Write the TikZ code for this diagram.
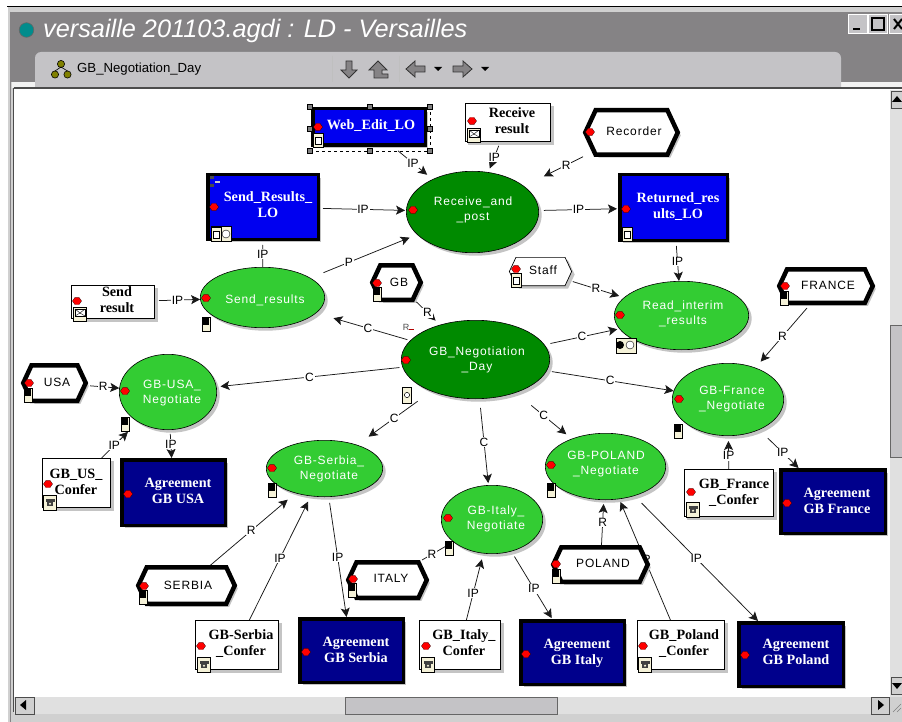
\documentclass[tikz,border=0pt]{standalone}
\usepackage{fontspec}
\usetikzlibrary{shapes.geometric,shapes.symbols,arrows.meta,shadows}
\newfontfamily\lblfont[LetterSpace=7]{Liberation Sans}
\newfontfamily\sansf{Liberation Sans}
\newfontfamily\srf{Liberation Serif}
\definecolor{chrome}{HTML}{858385}
\definecolor{tabgray}{HTML}{C4C3C6}
\definecolor{framegray}{HTML}{D0D0D0}
\definecolor{track}{HTML}{E0E0E0}
\definecolor{cream}{HTML}{F5F2D8}
\definecolor{lobue}{HTML}{0000F0}
\definecolor{agnavy}{HTML}{00008C}
\definecolor{dkgreen}{HTML}{008A00}
\definecolor{ltgreen}{HTML}{33CC33}
\definecolor{shade}{HTML}{C4C4C4}
\definecolor{teal2}{HTML}{008C8C}
\definecolor{olive2}{HTML}{808000}
\pgfdeclarelayer{win}\pgfdeclarelayer{conn}\pgfsetlayers{win,conn,main}
\newcommand\off[3]{\smash{\makebox[0pt]{\hspace{\dimexpr #1pt*2\relax}\raisebox{\dimexpr -#2pt-3pt\relax}{\begin{tabular}{@{}c@{}}#3\end{tabular}}}}}
\def\nd#1#2#3(#4,#5,#6,#7)(#8,#9){%
 \pgfmathsetmacro\ndcx{(#4+#6)/2}\pgfmathsetmacro\ndcy{(#5+#7)/2}%
 \pgfmathsetmacro\ndw{#6-#4-#3}\pgfmathsetmacro\ndh{#7-#5-#3}%
 \pgfmathsetmacro\nddx{#8-\ndcx}\pgfmathsetmacro\nddy{#9-\ndcy}%
 \def\ndname{#1}\tikzset{ndcur/.style={#2}}\ndfin}
\newcommand\ndfin[1]{\node[ndcur,minimum width=\ndw pt,minimum height=\ndh pt] (\ndname) at (\ndcx,\ndcy) {\off{\nddx}{\nddy}{#1}};}
\newcommand\cn[6][0.5]{\draw[connline,-{Stealth[length=9pt,width=9pt,inset=2pt]},shorten <=#5pt,shorten >=#6pt] (#2) -- node[lbl,pos=#1]{#4} (#3);}
\newcommand\cp[6][0.5]{\draw[connline,shorten <=#5pt,shorten >=#6pt] (#2) -- node[lbl,pos=#1]{#4} (#3);}
\newcommand\rdot[2]{\draw[black,fill=red,line width=.2pt] (#1-4.6,#2) -- (#1-2,#2-3.6) -- (#1+2,#2-3.6) -- (#1+4.6,#2) -- (#1+2,#2+3.6) -- (#1-2,#2+3.6) -- cycle;}
\newcommand\sw[2]{\draw[fill=cream,line width=.6pt] (#1-4,#2-7) rectangle (#1+4,#2+7);\fill[black] (#1-3,#2-6) rectangle (#1+3,#2+1);}
\newcommand\docicon[2]{\draw[fill=cream,line width=.6pt] (#1-5,#2-7) rectangle (#1+5,#2+7);\draw[fill=white,line width=.4pt] (#1-3,#2-3) rectangle (#1+3,#2+4);}
\newcommand\phoneicon[2]{\draw[fill=cream,line width=.7pt] (#1-6.5,#2-7.5) rectangle (#1+6.5,#2+7.5);\fill[black!75] (#1-4.5,#2-4) rectangle (#1+4.5,#2-1.5);\fill[black!75] (#1-3,#2-1.5) rectangle (#1+3,#2+3);\fill[cream] (#1,#2+.7) circle (1.2pt);}
\newcommand\mailicon[2]{\draw[fill=cream,line width=.7pt] (#1-6.5,#2-7) rectangle (#1+6.5,#2+7);\draw[fill=white,line width=.4pt] (#1-5,#2-5) rectangle (#1+5,#2+2);\draw[line width=.4pt] (#1-5,#2-5) -- (#1,#2-1) -- (#1+5,#2-5) (#1-5,#2+2) -- (#1,#2-1) -- (#1+5,#2+2);}
\newcommand\pairicon[2]{\draw[fill=cream,line width=.7pt] (#1-10,#2-7.5) rectangle (#1+10,#2+7.5);}
\newcommand\handle[2]{\draw[fill=gray,line width=.3pt] (#1-2.5,#2-2.5) rectangle (#1+2.5,#2+2.5);}
\tikzset{
 connline/.style={line width=.75pt,draw=black!90},
 lbl/.style={font=\fontsize{12}{12}\selectfont\sansf,fill=white,inner sep=.8pt,text=black},
 shad/.style={drop shadow={shadow xshift=3pt,shadow yshift=-3pt,fill=shade,opacity=1}},
 sanstxt/.style={font=\fontsize{12}{15.5}\selectfont\lblfont},
 serif/.style={font=\fontsize{14.2}{16.5}\selectfont\srf\bfseries},
 lobox/.style={rectangle,draw=black,line width=3.5pt,fill=lobue,text=white,serif,shad,inner sep=0pt},
 agbox/.style={rectangle,draw=black,line width=3.5pt,fill=agnavy,text=white,serif,shad,inner sep=0pt},
 whbox/.style={rectangle,draw=black,line width=.8pt,fill=white,text=black,serif,shad,inner sep=0pt},
 grn/.style={ellipse,draw=black,line width=.6pt,fill=ltgreen,text=white,sanstxt,shad,inner sep=0pt},
 dgrn/.style={ellipse,draw=black,line width=.6pt,fill=dkgreen,text=white,sanstxt,shad,inner sep=0pt},
 hexthick/.style={signal,signal to=east and west,signal pointer angle=130,draw=black,line width=4.5pt,fill=white,text=black,sanstxt,shad,inner sep=0pt},
 hexthin/.style={signal,signal to=east and west,signal pointer angle=130,draw=black,line width=.7pt,fill=white,text=black,sanstxt,shad,inner sep=0pt},
}
\begin{document}
\begin{tikzpicture}[x=1pt,y=-1pt]
\useasboundingbox (0,0) rectangle (902,722);
\begin{pgfonlayer}{win}
 \fill[white] (0,0) rectangle (902,722);
 \fill[framegray] (8,7) rectangle (902,722);
 \draw[black,line width=1pt] (7,6.5) -- (902,6.5);
 \fill[chrome] (11,12) rectangle (902,82);
 \fill[white!90!gray] (12,82) rectangle (902,88);
 \fill[tabgray] (35,88) -- (35,58) [rounded corners=6pt] -- (35,52) -- (841,52) [sharp corners] -- (841,58) -- (841,88) -- cycle;
 \fill[white] (13,88) rectangle (902,697);
 \draw[black!70,line width=1.2pt] (13.5,88) -- (902,88);
 \draw[black!70,line width=1.2pt] (13.5,88) -- (13.5,712);
 \draw[chrome,line width=.6pt] (10,12) -- (10,722);
 % title
 \draw[black!60,fill=teal2,line width=.6pt] (26.5,30) circle (7.3pt);
 \node[font=\fontsize{25.3}{27}\selectfont\sansf\itshape,text=white,anchor=west,inner sep=0pt] (wintitle) at (43,30.5) {versaille 201103.agdi : LD - Versailles};
 \node[font=\fontsize{13.2}{14}\selectfont\sansf,text=black,anchor=west,inner sep=0pt] (tabtitle) at (77,69) {GB\_Negotiation\_Day};
 \draw[black,fill=olive2,line width=.6pt] (61,64) circle (3.6pt) (55,74.5) circle (3.6pt) (67.5,74.5) circle (3.6pt);
 \draw[black,line width=.6pt] (61,67) -- (55,71) (61,67) -- (67.5,71);
 % toolbar
 \draw[white!50!gray,line width=1pt] (332,56) -- (332,82) (399,56) -- (399,82);
 \draw[black!80,fill=chrome,line width=.8pt] (346,61) -- (352,61) -- (352,70) -- (357,70) -- (349,78) -- (341,70) -- (346,70) -- cycle;
 \draw[black!80,fill=chrome,line width=.8pt] (378,61) -- (387,70) -- (382,70) -- (382,74) -- (388,74) -- (388,78) -- (374,78) -- (374,70) -- (369,70) -- cycle;
 \draw[black!80,fill=chrome,line width=.8pt] (406,69) -- (415,61) -- (415,66) -- (425,66) -- (425,72) -- (415,72) -- (415,77) -- cycle;
 \fill[black] (434,67) -- (442,67) -- (438,71) -- cycle;
 \draw[black!80,fill=chrome,line width=.8pt] (472,69) -- (463,61) -- (463,66) -- (453,66) -- (453,72) -- (463,72) -- (463,77) -- cycle;
 \fill[black] (481,67) -- (489,67) -- (485,71) -- cycle;
 % window buttons
 \foreach \bx/\bw in {848/19,868/19,889/13}{\draw[white,fill=tabgray,line width=.8pt] (\bx,14) rectangle (\bx+\bw,33);}
 \fill[black] (853,28) rectangle (860,30);
 \draw[black,line width=1.2pt] (872,18) rectangle (884,30);
 \draw[black,line width=2pt] (894,19) -- (902,29) (902,19) -- (894,29);
 % scroll bars
 \fill[track] (890,90) rectangle (902,697);
 \fill[track] (14,697) rectangle (890,714);
 \draw[black!60,fill=tabgray,line width=.6pt] (890,325) rectangle (903,457);
 \draw[black!60,fill=tabgray,line width=.6pt] (345,697) rectangle (557,714);
 \draw[black!70,fill=framegray,line width=.8pt] (15,697) rectangle (34,714);
 \fill[black] (20,705) -- (26,700) -- (26,710) -- cycle;
 \draw[black!70,fill=framegray,line width=.8pt] (871,697) rectangle (889,714);
 \fill[black] (884,705) -- (878,700) -- (878,710) -- cycle;
 \draw[black!70,fill=framegray,line width=.8pt] (891,91) rectangle (903,108);
 \fill[black] (897,96) -- (892,102) -- (902,102) -- cycle;
 \draw[black!70,fill=framegray,line width=.8pt] (891,677) rectangle (903,694);
 \fill[black] (897,689) -- (892,683) -- (902,683) -- cycle;
 \fill[framegray] (890,697) rectangle (902,714);
 \draw[black!50,line width=.6pt] (893,712) -- (901,704) (897,712) -- (901,708);
\end{pgfonlayer}

% ---------- nodes
\nd{web}{lobox}{3.5}(311,107,427,147)(371,127){Web\_Edit\_LO}
\nd{sendlo}{lobox}{3.5}(206,173,320,241)(268,207){Send\_Results\_\\LO}
\nd{retlo}{lobox}{3.5}(618,173,729,242)(678,208){Returned\_res\\ults\_LO}
\nd{recvres}{whbox}{.8}(465,103,551,142)(512,123){Receive\\result}
\nd{sendres}{whbox}{.8}(71,285,155,319)(117,302){Send\\result}
\nd{recorder}{hexthick}{4.5}(583,108,680,157)(634,132){Recorder}
\nd{gb}{hexthick}{4.5}(370,263,423,302)(399,283){GB}
\nd{staff}{hexthin}{.7}(509,257,572,286)(543,271){Staff}
\nd{france}{hexthick}{4.5}(777,267,875,305)(828,286){FRANCE}
\nd{usa}{hexthick}{4.5}(21,363,88,403)(57,383){USA}
\nd{serbia}{hexthick}{4.5}(136,565,237,606)(188,586){SERBIA}
\nd{italy}{hexthick}{4.5}(346,560,429,600)(391,579){ITALY}
\nd{poland}{hexthick}{4.5}(551,545,650,584)(603,564){POLAND}
\nd{recv}{dgrn}{.6}(406,171,539,253)(473,210){Receive\_and\\\_post}
\nd{neg}{dgrn}{.6}(401,320,550,399)(477,360){GB\_Negotiation\\\_Day}
\nd{sendn}{grn}{.6}(200,267,325,328)(265,300){Send\_results}
\nd{read}{grn}{.6}(614,281,749,350)(683,314){Read\_interim\\\_results}
\nd{usan}{grn}{.6}(119,354,217,430)(172,393){GB-USA\_\\Negotiate}
\nd{frn}{grn}{.6}(672,363,784,436)(732,399){GB-France\\\_Negotiate}
\nd{poln}{grn}{.6}(545,433,666,500)(606,464){GB-POLAND\\\_Negotiate}
\nd{itan}{grn}{.6}(441,485,543,554)(496,519){GB-Italy\_\\Negotiate}
\nd{sern}{grn}{.6}(266,440,383,497)(329,469){GB-Serbia\_\\Negotiate}
\nd{usconf}{whbox}{.8}(42,458,111,508)(76,484){GB\_US\_\\Confer}
\nd{frconf}{whbox}{.8}(684,469,774,517)(734,494){GB\_France\\\_Confer}
\nd{serconf}{whbox}{.8}(195,620,279,670)(241,645){GB-Serbia\\\_Confer}
\nd{itaconf}{whbox}{.8}(419,620,501,670)(464,645){GB\_Italy\_\\Confer}
\nd{polconf}{whbox}{.8}(637,620,725,670)(684,645){GB\_Poland\\\_Confer}
\nd{agusa}{agbox}{3.5}(120,458,227,527)(178,493){Agreement\\GB USA}
\nd{agfr}{agbox}{3.5}(779,468,887,535)(837,503){Agreement\\GB France}
\nd{agser}{agbox}{3.5}(298,617,405,684)(356,652){Agreement\\GB Serbia}
\nd{agita}{agbox}{3.5}(519,619,626,686)(577,654){Agreement\\GB Italy}
\nd{agpol}{agbox}{3.5}(737,621,845,688)(796,654){Agreement\\GB Poland}

% ---------- connectors
\begin{pgfonlayer}{conn}
\cn{web}{recv}{IP}{6}{7}
\cn{sendlo}{recv}{IP}{3}{1}
\cn{recvres}{recv}{IP}{4}{4}
\cn[.38]{recorder}{recv}{R}{10}{22}
\cn{recv}{retlo}{IP}{5}{1}
\cp{sendn}{sendlo}{IP}{0}{4}
\cn{sendres}{sendn}{IP}{4}{0}
\cn[.36]{sendn}{recv}{P}{14}{8}
\cn{gb}{neg}{R}{2}{6}
\cn[.45]{neg}{sendn}{C}{3}{18}
\cn{neg}{read}{C}{6}{2}
\cn{staff}{read}{R}{5}{5}
\cn{retlo}{read}{IP}{4}{0}
\cn{france}{frn}{R}{4}{8}
\cn{neg}{usan}{C}{3}{4}
\cn{usa}{usan}{R}{3}{0}
\cn{neg}{frn}{C}{5}{0}
\cn{neg}{sern}{C}{17}{14}
\cn{neg}{itan}{C}{9}{2}
\cn{neg}{poln}{C}{20}{7}
\cn[.35]{usconf}{usan}{IP}{0}{14}
\cn{usan}{agusa}{IP}{4}{0}
\cn[.4]{frconf}{frn}{IP}{0}{5}
\cn[.6]{frn}{agfr}{IP}{12}{0}
\cn[.48]{serbia}{sern}{R}{0}{10}
\cn{serconf}{sern}{IP}{0}{6}
\cn{sern}{agser}{IP}{6}{0}
\cp[.35]{italy}{itan}{R}{2}{0}
\cn[.4]{itaconf}{itan}{IP}{0}{6}
\cn[.55]{itan}{agita}{IP}{6}{1}
\cn{poland}{poln}{R}{0}{4}
\cn{polconf}{poln}{IP}{0}{3}
\cn{poln}{agpol}{IP}{10}{0}
\end{pgfonlayer}

% ---------- selection of Web_Edit_LO
\draw[black,line width=.7pt,dashed] (310,151) -- (430,151) -- (430,107);
\handle{310}{107}\handle{370}{107}\handle{430}{107}\handle{310}{129}\handle{430}{129}\handle{310}{151}\handle{370}{151}\handle{430}{151}
% ---------- little R mark near GB_Negotiation_Day
\node[font=\fontsize{9}{10}\selectfont\sansf,text=black!70,inner sep=0pt] (rmark) at (406,327) {R};
\draw[red!70!black,line width=.7pt] (409,329) -- (414,329);
% ---------- markers and icons
\rdot{318}{127}\docicon{318}{140}
\rdot{214}{207}\pairicon{221}{234}\docicon{216}{234}\draw[fill=white,line width=.4pt] (226,234) circle (4pt);
\fill[black!70] (210,176) rectangle (214,179); \fill[white!60!gray] (215,181) rectangle (220,183); \fill[black!70] (210,184) rectangle (214,187);
\rdot{413}{210}\rdot{626}{209}\docicon{627}{234}
\rdot{472}{121}\mailicon{474}{135}
\rdot{590}{132}
\rdot{206}{298}\sw{206}{324}
\rdot{77}{301}\mailicon{80}{314}
\rdot{377}{283}\sw{377}{294}
\rdot{406}{360}\draw[fill=cream,line width=.6pt] (402,387) rectangle (411,403);\draw[line width=.5pt,fill=white] (407,395) circle (2.6pt);
\rdot{516}{269}\docicon{516}{280}
\rdot{620}{315}\pairicon{626}{346}\fill[black] (620,345) circle (4pt);\draw[fill=white,line width=.4pt] (630,345) circle (4pt);
\rdot{785}{286}\sw{784}{298}
\rdot{679}{399}\sw{678}{431}
\rdot{551}{465}\sw{551}{490}
\rdot{448}{518}\sw{449}{548}
\rdot{272}{468}\sw{272}{490}
\rdot{125}{391}\sw{125}{424}
\rdot{29}{383}\sw{28}{395}
\rdot{48}{484}\phoneicon{50}{503}
\rdot{128}{494}
\rdot{144}{586}\sw{143}{597}
\rdot{201}{646}\phoneicon{204}{665}
\rdot{306}{652}
\rdot{353}{579}\sw{352}{590}
\rdot{426}{646}\phoneicon{428}{665}
\rdot{526}{654}
\rdot{556}{564}\sw{556}{576}
\rdot{643}{646}\phoneicon{645}{665}
\rdot{745}{655}
\rdot{691}{492}\phoneicon{693}{510}
\rdot{787}{503}
\end{tikzpicture}
\end{document}
